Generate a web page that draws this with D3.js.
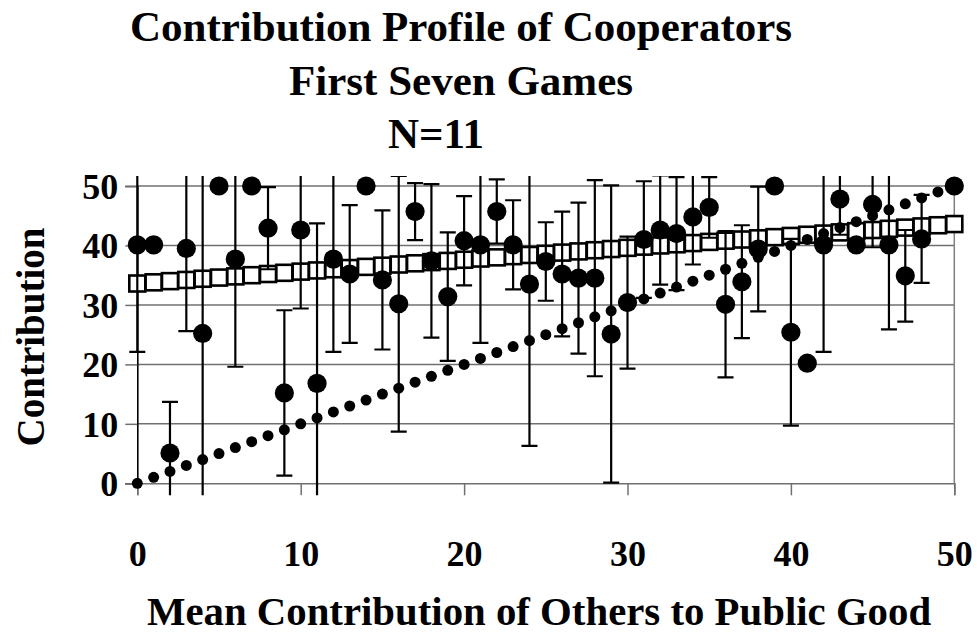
<!DOCTYPE html>
<html>
<head>
<meta charset="utf-8">
<script src="https://cdn.jsdelivr.net/npm/d3@7"></script>
<style>
  html, body { margin: 0; padding: 0; background: #fff; }
  svg text { font-family: "Liberation Serif", "Times New Roman", serif; font-weight: bold; fill: #000; }
</style>
</head>
<body>
<svg id="chart" width="977" height="635"></svg>
<script>
// ---------- data ----------
const titleLines = ["Contribution Profile of Cooperators", "First Seven Games", "N=11"];
const xAxisTitle = "Mean Contribution of Others to Public Good";
const yAxisTitle = "Contribution";
const xTicks = [0, 10, 20, 30, 40, 50];
const yTicks = [0, 10, 20, 30, 40, 50];

// mean contribution of cooperators (big filled circles)
const obsX  = [0,1,2,3,4,5,6,7,8,9,10,11,12,13,14,15,16,17,18,19,20,21,22,23,24,25,26,27,28,29,30,31,32,33,34,35,36,37,38,39,40,41,42,43,44,45,46,47,48,50];
const obsY  = [40.1,40.1,5.1,39.5,25.2,50,37.7,50,42.9,15.2,42.6,16.8,37.7,35.2,50,34.2,30.2,45.7,37.4,31.4,40.8,40.1,45.7,40.1,33.5,37.3,35.2,34.5,34.5,25.1,30.4,41.0,42.6,42.0,44.8,46.4,30.1,33.9,39.4,50,25.4,20.2,40.1,47.8,40.1,46.9,40.1,34.9,41.1,50];
// standard deviation (error bars); null = no bar
const obsSD = [18,null,8.6,13.9,28,null,18.1,null,6.9,13.9,13.2,26.9,15.6,11.6,null,11.7,21.5,4.8,12.9,10.8,7.5,16.5,5.4,7.5,27.2,6.6,10.5,12.7,16.5,25,11.1,9.8,9.2,9.5,8,5.1,12.3,9.5,10.5,null,15.7,null,18,6,null,7.2,14.2,7.7,7.4,null];

// fitted line (open squares)
const fitX = [0,1,2,3,4,5,6,7,8,9,10,11,12,13,14,15,16,17,18,19,20,21,22,23,24,25,26,27,28,29,30,31,32,33,34,35,36,37,38,39,40,41,42,43,44,45,46,47,48,49,50];
const fitY = [33.6,33.8,34.0,34.2,34.4,34.6,34.8,35.0,35.2,35.4,35.6,35.8,36.0,36.2,36.4,36.6,36.8,37.0,37.2,37.4,37.6,37.8,38.0,38.2,38.4,38.6,38.8,39.0,39.2,39.4,39.6,39.8,40.0,40.2,40.4,40.6,40.8,41.0,41.2,41.4,41.6,41.8,42.0,42.2,42.4,42.6,42.8,43.0,43.2,43.4,43.6];

// perfect conditional cooperation (small dots)
const diagX = [0,1,2,3,4,5,6,7,8,9,10,11,12,13,14,15,16,17,18,19,20,21,22,23,24,25,26,27,28,29,30,31,32,33,34,35,36,37,38,39,40,41,42,43,44,45,46,47,48,49,50];
const diagY = [0,1,2,3,4,5,6,7,8,9,10,11,12,13,14,15,16,17,18,19,20,21,22,23,24,25,26,27,28,29,30,31,32,33,34,35,36,37,38,39,40,41,42,43,44,45,46,47,48,49,50];

// ---------- drawing ----------
const svg = d3.select("#chart");
const x = d3.scaleLinear().domain([0, 50]).range([137.3, 954.3]);
const y = d3.scaleLinear().domain([0, 50]).range([483.3, 186]);

// gridlines
svg.append("g").selectAll("line").data(yTicks.filter(t => t > 0)).join("line")
  .attr("x1", x(0)).attr("x2", x(50))
  .attr("y1", d => y(d)).attr("y2", d => y(d))
  .attr("stroke", "#707070").attr("stroke-width", 1.5);

// right border
svg.append("line").attr("x1", x(50)).attr("x2", x(50)).attr("y1", y(50)).attr("y2", y(0))
  .attr("stroke", "#808080").attr("stroke-width", 1.5);

// x axis
const xAxis = svg.append("g").attr("transform", `translate(0,${y(0)})`)
  .call(d3.axisBottom(x).tickValues(xTicks).tickSize(12).tickPadding(46).tickFormat(d3.format("d")));
xAxis.select(".domain").attr("stroke", "#707070").attr("stroke-width", 1.5);
xAxis.selectAll(".tick line").attr("stroke", "#707070").attr("stroke-width", 1.5);
xAxis.selectAll("text").style("font-size", "36px").attr("dy", "0").attr("y", 83);

// y axis
const yAxis = svg.append("g").attr("transform", `translate(${x(0)},0)`)
  .call(d3.axisLeft(y).tickValues(yTicks).tickSize(12).tickPadding(7).tickFormat(d3.format("d")));
yAxis.select(".domain").attr("stroke", "#000").attr("stroke-width", 1.6);
yAxis.selectAll(".tick line").attr("stroke", "#707070").attr("stroke-width", 1.5);
yAxis.selectAll("text").style("font-size", "36px").attr("dy", "0.34em");

// clip for error bars
svg.append("clipPath").attr("id", "plotclip").append("rect")
  .attr("x", 0).attr("width", 977)
  .attr("y", y(51.7)).attr("height", y(-2) - y(51.7));

// fitted squares
const sq = 16;
svg.append("g").selectAll("rect").data(fitX.map((d, i) => [d, fitY[i]])).join("rect")
  .attr("x", d => x(d[0]) - sq / 2).attr("y", d => y(d[1]) - sq / 2)
  .attr("width", sq).attr("height", sq)
  .attr("fill", "#fff").attr("stroke", "#000").attr("stroke-width", 2.6);

// diagonal dots
svg.append("g").selectAll("circle").data(diagX.map((d, i) => [d, diagY[i]])).join("circle")
  .attr("cx", d => x(d[0])).attr("cy", d => y(d[1])).attr("r", 5.5).attr("fill", "#000");

// error bars
const obs = obsX.map((d, i) => ({ x: d, y: obsY[i], sd: obsSD[i] }));
const eb = svg.append("g").attr("clip-path", "url(#plotclip)");
const withSD = obs.filter(d => d.sd !== null);
eb.selectAll("line.v").data(withSD).join("line").attr("class", "v")
  .attr("x1", d => x(d.x)).attr("x2", d => x(d.x))
  .attr("y1", d => y(d.y - d.sd)).attr("y2", d => y(d.y + d.sd))
  .attr("stroke", "#000").attr("stroke-width", 2.2);
eb.selectAll("line.top").data(withSD).join("line").attr("class", "top")
  .attr("x1", d => x(d.x) - 8).attr("x2", d => x(d.x) + 8)
  .attr("y1", d => y(d.y + d.sd)).attr("y2", d => y(d.y + d.sd))
  .attr("stroke", "#000").attr("stroke-width", 2.2);
eb.selectAll("line.bot").data(withSD).join("line").attr("class", "bot")
  .attr("x1", d => x(d.x) - 8).attr("x2", d => x(d.x) + 8)
  .attr("y1", d => y(d.y - d.sd)).attr("y2", d => y(d.y - d.sd))
  .attr("stroke", "#000").attr("stroke-width", 2.2);

// observed circles
svg.append("g").selectAll("circle").data(obs).join("circle")
  .attr("cx", d => x(d.x)).attr("cy", d => y(d.y)).attr("r", 9.6).attr("fill", "#000");

// titles
const tBase = [41, 94.5, 148];
const tCx = [461, 461, 436];
svg.append("g").selectAll("text").data(titleLines).join("text")
  .attr("x", (d, i) => tCx[i]).attr("y", (d, i) => tBase[i]).attr("text-anchor", "middle")
  .style("font-size", "43px").text(d => d);

svg.append("text").attr("x", 539).attr("y", 625).attr("text-anchor", "middle")
  .style("font-size", "40.8px").text(xAxisTitle);

svg.append("text").attr("transform", "translate(44,337) rotate(-90)").attr("text-anchor", "middle")
  .style("font-size", "39px").text(yAxisTitle);
</script>
</body>
</html>
